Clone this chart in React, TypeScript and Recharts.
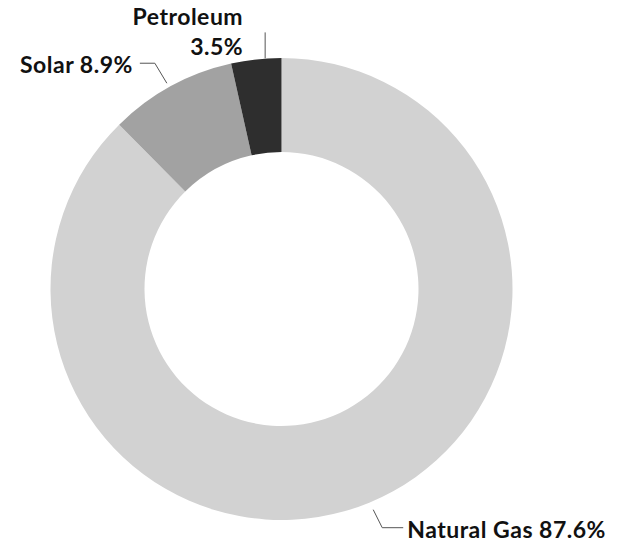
import React from "react";
import { PieChart, Pie, Cell } from "recharts";

const categories = ["Natural Gas", "Solar", "Petroleum"];
const shares = [87.6, 8.9, 3.5];
const labelTexts = [["Natural Gas 87.6%"], ["Solar 8.9%"], ["Petroleum", "3.5%"]];
const colors = ["#d2d2d2", "#a2a2a2", "#2e2e2e"];

const data = categories.map((name, i) => ({ name, value: shares[i] }));

const RADIAN = Math.PI / 180;

// label layout offsets relative to the slice's outer mid point
const layout = [
  { line: [[4, 7], [13, 25], [34, 25]], tx: 38, ty: [35], anchor: "start" },
  { line: [[-4, -3], [-16, -23], [-31, -23]], tx: -38, ty: [-13], anchor: "end" },
  { line: [[9, -1], [9, -27]], tx: -13, ty: [-34, -4], anchor: "end" },
];

const renderLabel = (props: any) => {
  const { cx, cy, midAngle, outerRadius, index } = props;
  const x0 = cx + outerRadius * Math.cos(-midAngle * RADIAN);
  const y0 = cy + outerRadius * Math.sin(-midAngle * RADIAN);
  const l = layout[index];
  const pts = l.line.map(([dx, dy]) => `${x0 + dx},${y0 + dy}`).join(" ");
  return (
    <g key={`lbl-${index}`}>
      <polyline points={pts} fill="none" stroke="#555" strokeWidth={1} />
      {labelTexts[index].map((t, j) => (
        <text
          key={j}
          x={x0 + l.tx}
          y={y0 + l.ty[j]}
          textAnchor={l.anchor as any}
          fontFamily="Lato, sans-serif"
          fontWeight="bold"
          fontSize={23}
          letterSpacing={0.5}
          fill="#111"
        >
          {t}
        </text>
      ))}
    </g>
  );
};

export default function App() {
  return (
    <div style={{ position: "absolute", left: 0, top: 0, width: 618, height: 545, background: "#fff" }}>
      <PieChart width={618} height={545} margin={{ top: 0, right: 0, bottom: 0, left: 0 }}>
        <Pie
          data={data}
          dataKey="value"
          nameKey="name"
          cx={281.5}
          cy={289}
          innerRadius={137}
          outerRadius={231}
          startAngle={90}
          endAngle={-270}
          stroke="none"
          label={renderLabel}
          labelLine={false}
          isAnimationActive={false}
        >
          {data.map((d, i) => (
            <Cell key={d.name} fill={colors[i]} />
          ))}
        </Pie>
      </PieChart>
    </div>
  );
}
